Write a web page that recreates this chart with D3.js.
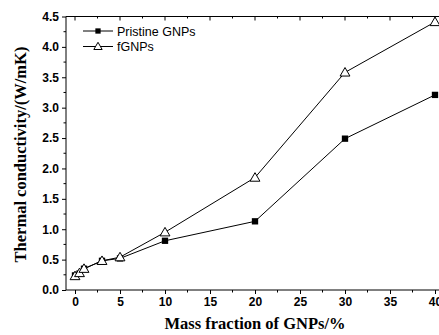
<!DOCTYPE html>
<html><head><meta charset="utf-8">
<script src="https://cdn.jsdelivr.net/npm/d3@7"></script>
<style>body{margin:0;background:#fff}svg{display:block}</style>
</head><body><svg id="c" width="439" height="335"></svg>
<script>
const massFraction = [0, 0.5, 1, 3, 5, 10, 20, 30, 40];
const pristine = [0.24, 0.27, 0.35, 0.48, 0.52, 0.81, 1.13, 2.49, 3.21];
const fgnps = [0.23, 0.28, 0.35, 0.48, 0.54, 0.95, 1.85, 3.58, 4.41];
const xTicks = [0, 5, 10, 15, 20, 25, 30, 35, 40];
const yTicks = [0.0, 0.5, 1.0, 1.5, 2.0, 2.5, 3.0, 3.5, 4.0, 4.5];
const seriesNames = ["Pristine GNPs", "fGNPs"];

const svg = d3.select("#c");
const x = d3.scaleLinear().domain([-1, 41]).range([66, 444]);
const y = d3.scaleLinear().domain([0, 4.5]).range([290, 16.5]);

const minorX = d3.range(-0, 41, 2.5);
const minorY = d3.range(0, 4.51, 0.25);

// frame top
svg.append("line").attr("x1", x(-1)).attr("x2", 439).attr("y1", y(4.5)).attr("y2", y(4.5)).attr("stroke", "#000").attr("stroke-width", 1);
svg.append("g").selectAll("line").data(minorX).join("line")
  .attr("x1", d => x(d)).attr("x2", d => x(d)).attr("y1", y(4.5)).attr("y2", d => y(4.5) + (d % 5 === 0 ? 4 : 2))
  .attr("stroke", "#000");

// bottom axis
const xAxis = d3.axisBottom(x).tickValues(xTicks).tickSize(4).tickPadding(3).tickFormat(d3.format("d"));
const gx = svg.append("g").attr("transform", `translate(0,${y(0)})`).call(xAxis);
gx.select(".domain").attr("d", `M${x(-1)},0H439`);
gx.selectAll(".tick line").attr("stroke-width", 1);
gx.append("g").selectAll("line").data(minorX.filter(d => d % 5 !== 0)).join("line")
  .attr("x1", d => x(d)).attr("x2", d => x(d)).attr("y1", 0).attr("y2", 2.5).attr("stroke", "#000");
gx.selectAll("text").attr("font-family", "Arial, 'Liberation Sans', sans-serif").attr("font-weight", "bold").attr("font-size", 12).attr("fill", "#000");

// left axis
const yAxis = d3.axisLeft(y).tickValues(yTicks).tickSize(4).tickPadding(3).tickFormat(d3.format(".1f"));
const gy = svg.append("g").attr("transform", `translate(${x(-1)},0)`).call(yAxis);
gy.select(".domain").attr("d", `M0,${y(0)}V${y(4.5)}`);
gy.append("g").selectAll("line").data(minorY.filter(d => Math.abs(d * 2 - Math.round(d * 2)) > 0.01)).join("line")
  .attr("x1", 0).attr("x2", -2.5).attr("y1", d => y(d)).attr("y2", d => y(d)).attr("stroke", "#000");
gy.selectAll("text").attr("font-family", "Arial, 'Liberation Sans', sans-serif").attr("font-weight", "bold").attr("font-size", 12).attr("fill", "#000");

// titles
svg.append("text").attr("x", 255).attr("y", 329).attr("text-anchor", "middle")
  .attr("font-family", "'Times New Roman', 'Liberation Serif', serif").attr("font-weight", "bold").attr("font-size", 16.5)
  .text("Mass fraction of GNPs/%");
svg.append("text").attr("transform", "translate(26,154.5) rotate(-90)").attr("text-anchor", "middle")
  .attr("font-family", "'Times New Roman', 'Liberation Serif', serif").attr("font-weight", "bold").attr("font-size", 16.5)
  .text("Thermal conductivity/(W/mK)");

const line = d3.line().x((d, i) => x(massFraction[i])).y(d => y(d));
svg.append("path").datum(pristine).attr("d", line).attr("fill", "none").attr("stroke", "#000").attr("stroke-width", 1);
svg.append("path").datum(fgnps).attr("d", line).attr("fill", "none").attr("stroke", "#000").attr("stroke-width", 1);

const sq = d3.symbol().type(d3.symbolSquare).size(40);
const tri = d3.symbol().type(d3.symbolTriangle).size(42);
const sqLeg = d3.symbol().type(d3.symbolSquare).size(28);
const triLeg = d3.symbol().type(d3.symbolTriangle).size(30);
svg.append("g").selectAll("path").data(pristine).join("path")
  .attr("transform", (d, i) => `translate(${x(massFraction[i])},${y(d)})`).attr("d", sq).attr("fill", "#000");
svg.append("g").selectAll("path").data(fgnps).join("path")
  .attr("transform", (d, i) => `translate(${x(massFraction[i])},${y(d) + 0.8})`).attr("d", tri).attr("fill", "#fff").attr("stroke", "#000").attr("stroke-width", 1);

// legend
const leg = svg.append("g");
seriesNames.forEach((name, i) => {
  const ly = 31 + i * 15.5;
  leg.append("line").attr("x1", 83).attr("x2", 113).attr("y1", ly).attr("y2", ly).attr("stroke", "#000");
  leg.append("path").attr("transform", `translate(98,${ly + (i ? 0.6 : 0)})`).attr("d", i ? triLeg : sqLeg)
    .attr("fill", i ? "#fff" : "#000").attr("stroke", i ? "#000" : "none");
  leg.append("text").attr("x", 117).attr("y", ly + 4.5).attr("font-family", "Arial, 'Liberation Sans', sans-serif").attr("font-size", 12.5).text(name);
});
</script></body></html>
